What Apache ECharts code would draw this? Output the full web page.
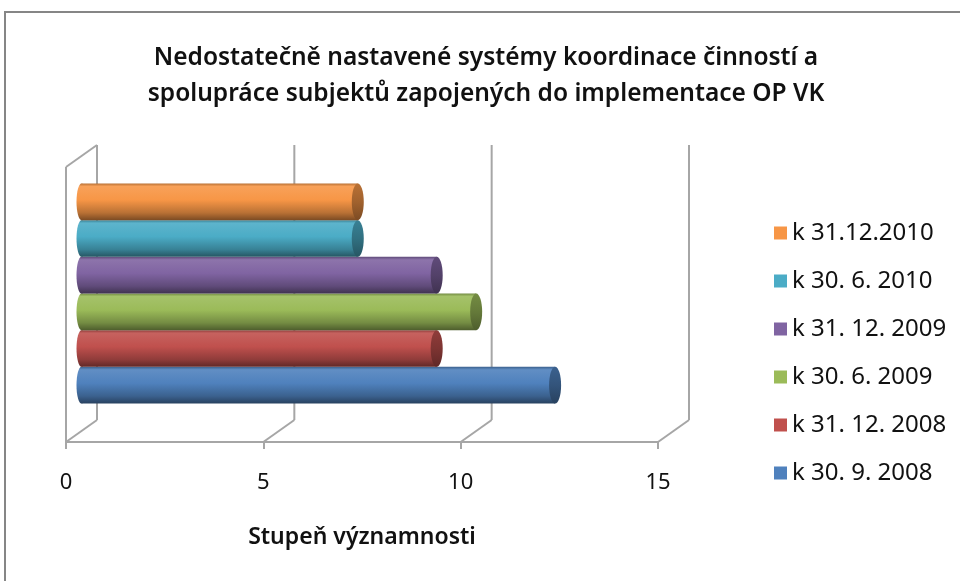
<!DOCTYPE html>
<html>
<head>
<meta charset="utf-8">
<script src="https://cdn.jsdelivr.net/npm/echarts@6/dist/echarts.min.js"></script>
<style>
html, body { margin: 0; padding: 0; background: #fff; }
#chart { width: 960px; height: 581px; }
</style>
</head>
<body>
<div id="chart"></div>
<script>
const titleText = 'Nedostatečně nastavené systémy koordinace činností a\nspolupráce subjektů zapojených do implementace OP VK';
const axisName = 'Stupeň významnosti';
const seriesNames = ['k 30. 9. 2008', 'k 31. 12. 2008', 'k 30. 6. 2009', 'k 31. 12. 2009', 'k 30. 6. 2010', 'k 31.12.2010'];
const seriesValues = [12, 9, 10, 9, 7, 7];
const seriesColors = ['#4F81BD', '#C0504D', '#9BBB59', '#8064A2', '#4BACC6', '#F79646'];
const xTicks = [0, 5, 10, 15];

// 3D depth offset of the back wall
const DX = 31, DY = -22;
const FONT = '"Noto Sans", "DejaVu Sans", sans-serif';

function mix(hex, target, t) {
    const a = parseInt(hex.slice(1), 16);
    const r = (a >> 16) & 255, g = (a >> 8) & 255, b = a & 255;
    const m = v => Math.round(v + (target - v) * t);
    return 'rgb(' + m(r) + ',' + m(g) + ',' + m(b) + ')';
}

function cylinder(i) {
    return function (params, api) {
        const p0 = api.coord([0, 0]);
        const p1 = api.coord([api.value(0), 0]);
        const band = api.size([0, 1])[1];
        const total = band * 0.8;
        const h = total / seriesValues.length;
        const top = p0[1] + total / 2 - (i + 1) * h + DY / 2;
        const x0 = p0[0] + DX / 2, x1 = p1[0] + DX / 2;
        const cy = top + h / 2;
        const c = seriesColors[i];
        const body = new echarts.graphic.LinearGradient(0, 0, 0, 1, [
            {offset: 0, color: mix(c, 0, 0.25)},
            {offset: 0.08, color: mix(c, 255, 0.1)},
            {offset: 0.45, color: c},
            {offset: 0.8, color: mix(c, 0, 0.25)},
            {offset: 1, color: mix(c, 0, 0.5)}
        ]);
        const cap = new echarts.graphic.LinearGradient(0, 0, 0, 1, [
            {offset: 0, color: mix(c, 0, 0.25)},
            {offset: 0.5, color: mix(c, 0, 0.35)},
            {offset: 1, color: mix(c, 0, 0.5)}
        ]);
        return {
            type: 'group',
            children: [
                {type: 'ellipse', shape: {cx: x0, cy: cy, rx: 5, ry: h / 2}, style: {fill: body}},
                {type: 'rect', shape: {x: x0, y: top, width: x1 - x0, height: h}, style: {fill: body}},
                {type: 'ellipse', shape: {cx: x1, cy: cy, rx: 6, ry: h / 2}, style: {fill: cap}}
            ]
        };
    };
}

function frame(params, api) {
    const t = api.value(0);
    const p = api.coord([t, 0]);
    const band = api.size([0, 1])[1];
    const bottom = p[1] + band / 2, top = p[1] - band / 2;
    const x = p[0];
    const lines = [
        [x, bottom, x + DX, bottom + DY],
        [x + DX, bottom + DY, x + DX, top + DY]
    ];
    if (t === xTicks[0]) {
        lines.push([x, bottom, x, top]);
        lines.push([x, top, x + DX, top + DY]);
    }
    return {
        type: 'group',
        children: lines.map(l => ({
            type: 'line',
            shape: {x1: l[0], y1: l[1], x2: l[2], y2: l[3]},
            style: {stroke: '#a6a6a6', lineWidth: 2}
        }))
    };
}

let series = [{
    type: 'custom',
    name: 'frame',
    silent: true,
    z: 1,
    renderItem: frame,
    encode: {x: 0, y: 1},
    data: xTicks.map(t => [t, 0])
}];
seriesNames.forEach((name, i) => {
    series.push({
        type: 'custom',
        name: name,
        z: 2,
        renderItem: cylinder(i),
        encode: {x: 0, y: 1},
        itemStyle: {color: seriesColors[i]},
        data: [[seriesValues[i], 0]]
    });
});

let option = {
    backgroundColor: '#fff',
    animation: false,
    title: {
        text: titleText,
        left: 481,
        textAlign: 'center',
        top: 35,
        textStyle: {fontFamily: FONT, fontSize: 24.5, fontWeight: 600, color: '#111', lineHeight: 36}
    },
    legend: {
        orient: 'vertical',
        left: 769,
        top: 216,
        itemWidth: 13,
        itemHeight: 13,
        itemGap: 24,
        icon: 'rect',
        data: seriesNames.slice().reverse(),
        textStyle: {fontFamily: FONT, fontSize: 24, color: '#111'}
    },
    grid: {
        left: 66,
        right: 302,
        top: 167,
        bottom: 139
    },
    xAxis: {
        type: 'value',
        min: 0,
        max: 15,
        interval: 5,
        name: axisName,
        nameLocation: 'middle',
        nameGap: 84,
        nameTextStyle: {fontFamily: FONT, fontSize: 23, fontWeight: 600, color: '#111'},
        axisLine: {show: true, lineStyle: {color: '#a6a6a6', width: 2}},
        axisTick: {show: true, length: 7, lineStyle: {color: '#a6a6a6', width: 2}},
        axisLabel: {fontFamily: FONT, fontSize: 22, color: '#111', margin: 30},
        splitLine: {show: false}
    },
    yAxis: {
        type: 'category',
        data: [''],
        show: false
    },
    graphic: [{
        type: 'rect',
        shape: {x: 5, y: 12, width: 1000, height: 620},
        style: {fill: 'none', stroke: '#868686', lineWidth: 2},
        silent: true
    }],
    series: series
};

let myChart = echarts.init(document.getElementById('chart'));
myChart.setOption(option);
</script>
</body>
</html>
